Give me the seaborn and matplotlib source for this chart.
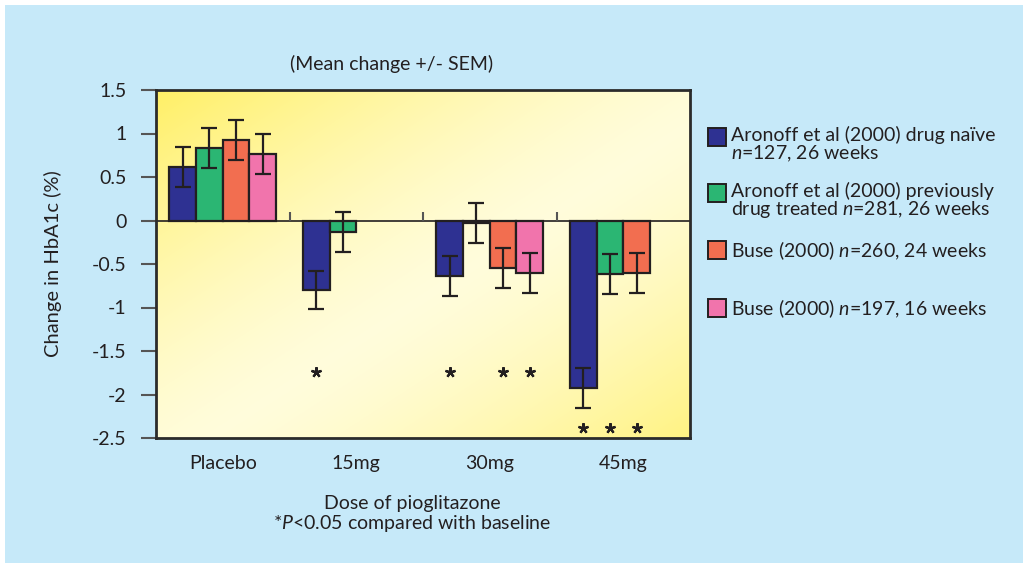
import numpy as np
import pandas as pd
import matplotlib.pyplot as plt
import seaborn as sns
from matplotlib.patches import Rectangle

# data
doses = ["Placebo", "15mg", "30mg", "45mg"]
studies = [
    "Aronoff et al (2000) drug naïve\n$\\it{n}$=127, 26 weeks",
    "Aronoff et al (2000) previously\ndrug treated $\\it{n}$=281, 26 weeks",
    "Buse (2000) $\\it{n}$=260, 24 weeks",
    "Buse (2000) $\\it{n}$=197, 16 weeks",
]
mean_change = {
    studies[0]: [0.62, -0.80, -0.64, -1.93],
    studies[1]: [0.83, -0.13, -0.03, -0.61],
    studies[2]: [0.93, np.nan, -0.55, -0.60],
    studies[3]: [0.76, np.nan, -0.60, np.nan],
}
sem = {
    studies[0]: [0.23, 0.22, 0.23, 0.23],
    studies[1]: [0.23, 0.23, 0.23, 0.23],
    studies[2]: [0.23, np.nan, 0.23, 0.23],
    studies[3]: [0.23, np.nan, 0.23, np.nan],
}
# significance markers (*P<0.05): (dose, study index, y position)
stars = [("15mg", 0, -1.74), ("30mg", 0, -1.74), ("30mg", 2, -1.74), ("30mg", 3, -1.74),
         ("45mg", 0, -2.39), ("45mg", 1, -2.39), ("45mg", 2, -2.39)]

colors = ["#2E3192", "#2BB673", "#F26E50", "#F174AC"]
bg = "#C6E9F9"

rows = []
for s in studies:
    for d, v, e in zip(doses, mean_change[s], sem[s]):
        rows.append({"dose": d, "study": s, "change": v, "sem": e})
df = pd.DataFrame(rows)

plt.rcParams["font.family"] = ["Lato", "DejaVu Sans"]
plt.rcParams["mathtext.fontset"] = "custom"
plt.rcParams["mathtext.it"] = "Lato:italic"
plt.rcParams["mathtext.rm"] = "Lato"
txt = "#231F20"

fig = plt.figure(figsize=(10.23, 5.63), dpi=100, facecolor="white")
fig.patches.append(Rectangle((5 / 1023, 0), 1, 1 - 5 / 563, transform=fig.transFigure,
                             facecolor=bg, edgecolor="none", zorder=-10))
ax = fig.add_axes([156 / 1023, 1 - 438 / 563, 534 / 1023, 348 / 563])

# yellow diagonal gradient behind the bars
gx, gy = np.meshgrid(np.linspace(0, 1, 300), np.linspace(0, 1, 300))
t = np.abs((gx + gy) / 2 - 0.55) / 0.55
light = np.array([1.0, 0.99, 0.86])
dark = np.array([1.0, 0.94, 0.40])
grad = light + (dark - light) * np.clip(t, 0, 1)[..., None] ** 1.4
ax.imshow(grad, extent=[-0.5, 3.5, -2.5, 1.5], aspect="auto", zorder=0, origin="upper")

sns.barplot(data=df, x="dose", y="change", hue="study", order=doses, hue_order=studies,
            palette=colors, errorbar=None, width=0.8, edgecolor="#231F20", linewidth=1.6,
            saturation=1, ax=ax, legend=False, zorder=2)

bw = 0.8 / len(studies)
for i, s in enumerate(studies):
    xs = np.arange(len(doses)) + (i - 1.5) * bw
    ax.errorbar(xs, mean_change[s], yerr=sem[s], fmt="none", ecolor="#231F20",
                elinewidth=1.6, capsize=6, capthick=1.6, zorder=3)

star_x = [doses.index(d) + (i - 1.5) * bw for d, i, _ in stars]
star_y = [y for _, _, y in stars]
ax.plot(star_x, star_y, ls="none", marker=(5, 2, 0), ms=7.5, mew=1.6, color=txt, zorder=4)

ax.axhline(0, color="#231F20", lw=1.2, zorder=2.5)
ax.vlines([0.5, 1.5, 2.5], 0, 0.1, color="#555555", lw=1.5, zorder=2.5)

ax.set_xlim(-0.5, 3.5)
ax.set_ylim(-2.5, 1.5)
ax.set_yticks([1.5, 1, 0.5, 0, -0.5, -1, -1.5, -2, -2.5])
ax.set_yticklabels(["1.5", "1", "0.5", "0", "-0.5", "-1", "-1.5", "-2", "-2.5"])
ax.tick_params(axis="y", length=11, width=1.5, color="#555555", labelsize=14,
               labelcolor=txt, pad=10)
ax.tick_params(axis="x", length=0, labelsize=14, labelcolor=txt, pad=12)
for sp in ax.spines.values():
    sp.set_color("#2b2b2b")
    sp.set_linewidth(2)
ax.set_xlabel("")
ax.set_ylabel("Change in HbA1c (%)", fontsize=14.5, color=txt, labelpad=22)

fig.text(392 / 1023, 1 - 64 / 563, "(Mean change +/- SEM)", ha="center", va="center",
         fontsize=14, color=txt)
fig.text(412 / 1023, 1 - 503 / 563, "Dose of pioglitazone", ha="center", va="center",
         fontsize=14, color=txt)
fig.text(412 / 1023, 1 - 523 / 563, "*$\\it{P}$<0.05 compared with baseline", ha="center",
         va="center", fontsize=14, color=txt)

# legend drawn by hand to keep the uneven spacing of the original
leg_top = [128, 184, 241, 299]
for s, c, top in zip(studies, colors, leg_top):
    fig.patches.append(Rectangle((708 / 1023, 1 - (top + 18) / 563), 18 / 1023, 18 / 563,
                                 transform=fig.transFigure, facecolor=c,
                                 edgecolor="#231F20", lw=1.4))
    fig.text(731 / 1023, 1 - (top - 2) / 563, s, ha="left", va="top", fontsize=14,
             color=txt, linespacing=0.95)

fig.savefig("out.png", dpi=100, facecolor=fig.get_facecolor())
